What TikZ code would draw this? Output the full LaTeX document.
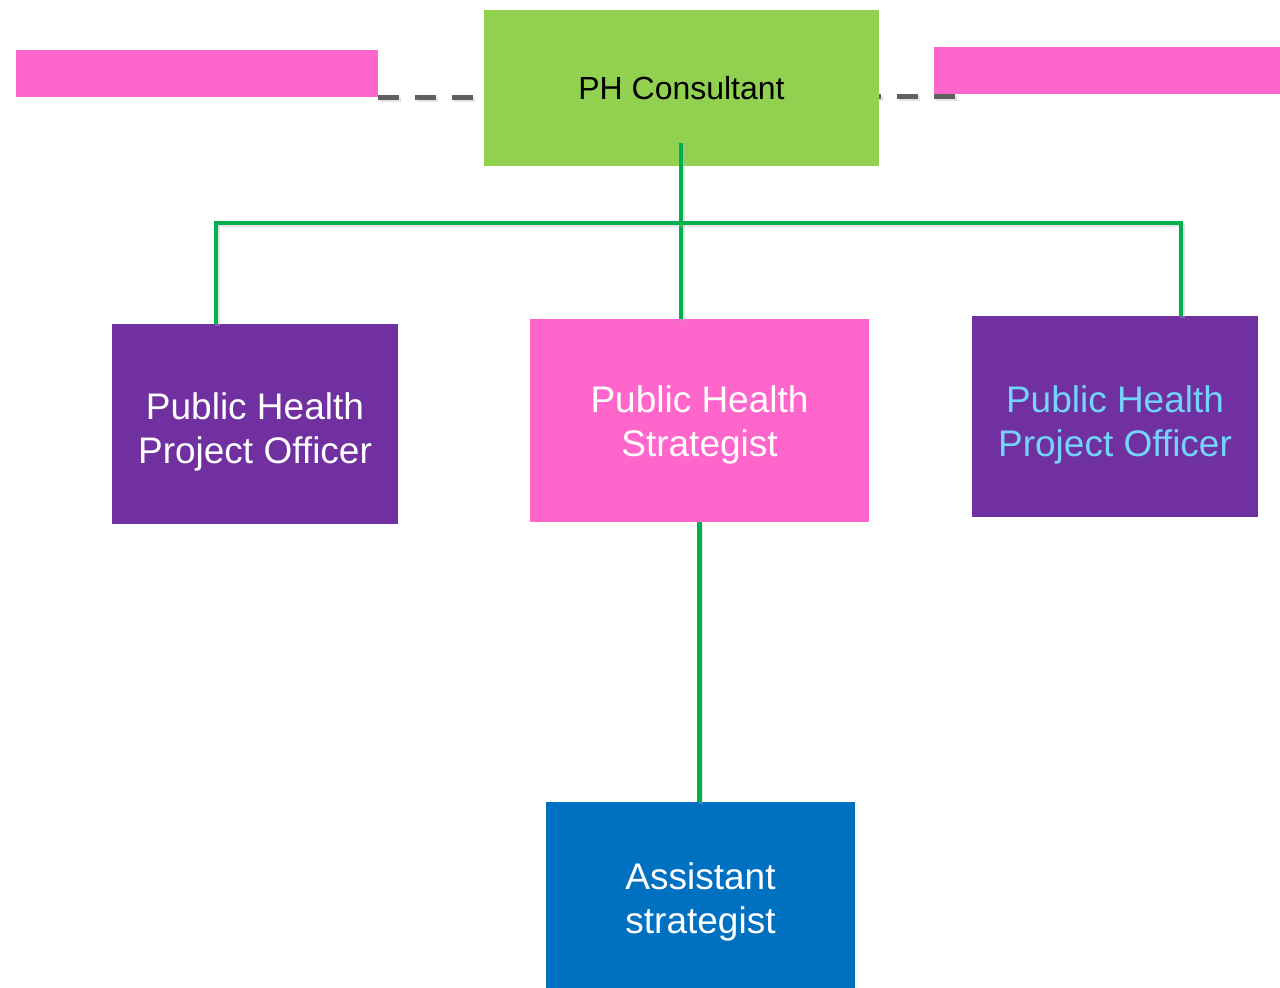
\documentclass[tikz,border=0pt]{standalone}
\usepackage{fontspec}
\setmainfont{Liberation Sans}
\definecolor{cgreen}{HTML}{92D050}
\definecolor{cpink}{HTML}{FF66CC}
\definecolor{cpurple}{HTML}{7030A0}
\definecolor{cblue}{HTML}{0070C0}
\definecolor{cline}{HTML}{00B050}
\definecolor{cdash}{HTML}{606060}
\definecolor{ccyan}{HTML}{73D4FF}
\newcommand{\boxtext}[2]{\raisebox{-#1}[\height][\depth]{\begin{tabular}{@{}c@{}}#2\end{tabular}}}
\begin{document}
\begin{tikzpicture}[x=1pt,y=-1pt,
  box/.style={rectangle,inner sep=0pt,font=\fontsize{37}{44}\selectfont},
  tie/.style={draw=cline,line width=4.5pt,
    preaction={draw=black!30,opacity=0.35,line width=4.5pt,transform canvas={shift={(1.5pt,-2pt)}}}},
  dotted link/.style={draw=cdash,line width=5pt,dash pattern=on 21pt off 16pt,
    preaction={draw=black!30,opacity=0.35,line width=5pt,dash pattern=on 21pt off 16pt,transform canvas={shift={(1.5pt,-2pt)}}}}]
\useasboundingbox (0,0) rectangle (1280,988);
\fill[white] (0,0) rectangle (1280,988);
% dashed links
\coordinate (dL0) at (378,97);
\coordinate (dL1) at (484,97);
\coordinate (dR0) at (955,96.5);
\coordinate (dR1) at (870,96.5);
\draw[dotted link] (dL0) -- (dL1);
\draw[dotted link] (dR0) -- (dR1);
% boxes
\node[box,fill=cpink,minimum width=362pt,minimum height=47pt] (pinkL) at (197,73.5) {};
\node[box,fill=cpink,minimum width=346pt,minimum height=47pt] (pinkR) at (1107,70.5) {};
\node[box,fill=cgreen,minimum width=395pt,minimum height=156pt,font=\fontsize{32}{38}\selectfont,text=black] (cons) at (681.5,88) {PH Consultant};
\node[box,fill=cpurple,minimum width=286pt,minimum height=200pt,text=white] (ppo1) at (255,424) {\boxtext{9pt}{Public Health\\Project Officer}};
\node[box,fill=cpink,minimum width=339pt,minimum height=203pt,text=white] (strat) at (699.5,420.5) {\boxtext{5pt}{Public Health\\Strategist}};
\node[box,fill=cpurple,minimum width=286pt,minimum height=201pt,text=ccyan] (ppo2) at (1115,416.5) {\boxtext{9pt}{Public Health\\Project Officer}};
\node[box,fill=cblue,minimum width=309pt,minimum height=188pt,text=white] (asst) at (700.5,896) {\boxtext{7pt}{Assistant\\strategist}};
% connectors
\coordinate (cstart) at (681,143);
\coordinate (busL) at (216,223);
\coordinate (busR) at (1181,223);
\draw[tie] (cstart) -- (cstart |- strat.north);
\draw[tie] (busL |- ppo1.north) -- (busL) -- (busR) -- (busR |- ppo2.north);
\draw[tie] (strat.south) -- (strat.south |- asst.north);
\end{tikzpicture}
\end{document}
